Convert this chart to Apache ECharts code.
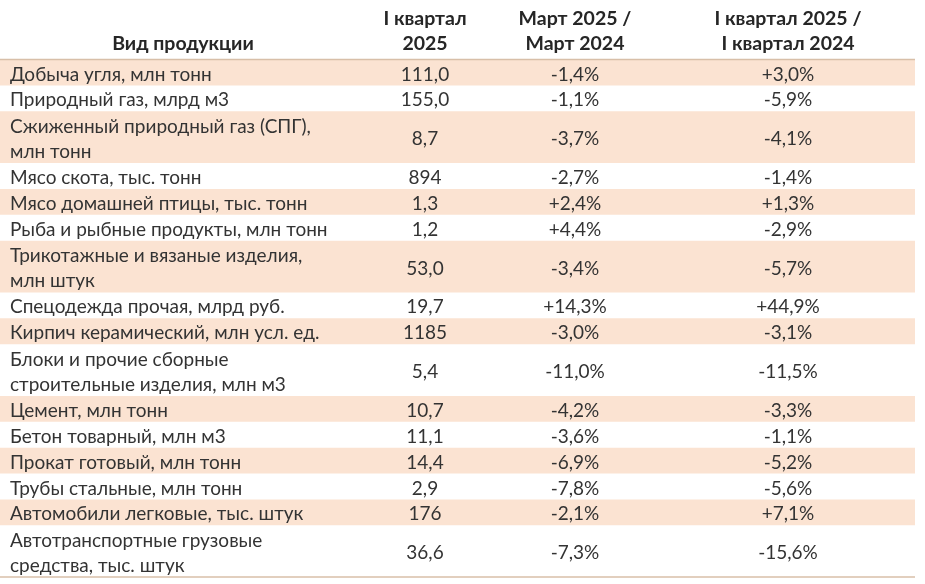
<!DOCTYPE html>
<html lang="ru">
<head>
    <meta charset="UTF-8">
    <title>Производство</title>
    <script src="https://cdn.jsdelivr.net/npm/echarts@6/dist/echarts.min.js"></script>
    <style>
        html, body { margin: 0; padding: 0; background: #fff; }
        #main { width: 925px; height: 584px; }
    </style>
</head>
<body>
<div id="main"></div>
<script type="text/javascript">
    // таблица: строки и значения
    const headers = ['Вид продукции', 'I квартал\n2025', 'Март 2025 /\nМарт 2024', 'I квартал 2025 /\nI квартал 2024']
    const products = [
        'Добыча угля, млн тонн',
        'Природный газ, млрд м3',
        'Сжиженный природный газ (СПГ),\nмлн тонн',
        'Мясо скота, тыс. тонн',
        'Мясо домашней птицы, тыс. тонн',
        'Рыба и рыбные продукты, млн тонн',
        'Трикотажные и вязаные изделия,\nмлн штук',
        'Спецодежда прочая, млрд руб.',
        'Кирпич керамический, млн усл. ед.',
        'Блоки и прочие сборные\nстроительные изделия, млн м3',
        'Цемент, млн тонн',
        'Бетон товарный, млн м3',
        'Прокат готовый, млн тонн',
        'Трубы стальные, млн тонн',
        'Автомобили легковые, тыс. штук',
        'Автотранспортные грузовые\nсредства, тыс. штук'
    ]
    const quarter2025 = ['111,0', '155,0', '8,7', '894', '1,3', '1,2', '53,0', '19,7', '1185', '5,4', '10,7', '11,1', '14,4', '2,9', '176', '36,6']
    const marchChange = ['-1,4%', '-1,1%', '-3,7%', '-2,7%', '+2,4%', '+4,4%', '-3,4%', '+14,3%', '-3,0%', '-11,0%', '-4,2%', '-3,6%', '-6,9%', '-7,8%', '-2,1%', '-7,3%']
    const quarterChange = ['+3,0%', '-5,9%', '-4,1%', '-1,4%', '+1,3%', '-2,9%', '-5,7%', '+44,9%', '-3,1%', '-11,5%', '-3,3%', '-1,1%', '-5,2%', '-5,6%', '+7,1%', '-15,6%']

    const colX = [10, 425, 575, 788]
    const FONT = '19px Lato, "Noto Sans", sans-serif'
    const FONT_B = 'bold 19.5px Lato, "Noto Sans", sans-serif'
    const TEXT = '#333333'
    const SHADE = '#fbe3d2'
    const LINE = '#d8bfa8'
    const HEAD = 2.3

    // начало и конец каждой строки в "строчных" единицах
    let acc = 0
    const rows = products.map(function (p, i) {
        const n = p.split('\n').length
        const r = [acc, acc + n, i]
        acc += n
        return r
    })
    const total = acc

    function renderRow(params, api) {
        const i = api.value(2)
        const a = api.coord([0, api.value(0)])
        const b = api.coord([915, api.value(1)])
        const mid = (a[1] + b[1]) / 2 + 2
        const children = []
        if (i % 2 === 0) {
            children.push({
                type: 'rect',
                shape: {x: a[0], y: a[1], width: b[0] - a[0], height: b[1] - a[1]},
                style: {fill: SHADE}
            })
        }
        const cells = [products[i], quarter2025[i], marchChange[i], quarterChange[i]]
        cells.forEach(function (t, c) {
            children.push({
                type: 'text',
                style: {
                    text: t,
                    x: api.coord([colX[c], 0])[0],
                    y: mid,
                    align: c === 0 ? 'left' : 'center',
                    verticalAlign: 'middle',
                    font: FONT,
                    lineHeight: 25,
                    fill: TEXT
                }
            })
        })
        return {type: 'group', children: children}
    }

    function renderHeader(params, api) {
        const a = api.coord([0, -HEAD])
        const b = api.coord([915, 0])
        const e = api.coord([915, total])
        const children = [
            {type: 'line', shape: {x1: a[0], y1: b[1], x2: b[0], y2: b[1]}, style: {stroke: LINE, lineWidth: 1.5}},
            {type: 'line', shape: {x1: a[0], y1: e[1], x2: b[0], y2: e[1]}, style: {stroke: LINE, lineWidth: 1.5}}
        ]
        headers.forEach(function (t, c) {
            const x = c === 0 ? 183 : colX[c]
            children.push({
                type: 'text',
                style: {
                    text: t,
                    x: api.coord([x, 0])[0],
                    y: b[1] - 3,
                    align: 'center',
                    verticalAlign: 'bottom',
                    font: FONT_B,
                    lineHeight: 25,
                    fill: '#262626'
                }
            })
        })
        return {type: 'group', children: children}
    }

    const chart = echarts.init(document.getElementById('main'))
    chart.setOption({
        animation: false,
        backgroundColor: '#fff',
        grid: {left: 0, right: 10, top: 0, bottom: 7},
        xAxis: {type: 'value', min: 0, max: 915, show: false},
        yAxis: {type: 'value', min: -HEAD, max: total, inverse: true, show: false},
        series: [
            {type: 'custom', renderItem: renderRow, data: rows, clip: false, silent: true},
            {type: 'custom', renderItem: renderHeader, data: [[0, 0, 0]], clip: false, silent: true}
        ]
    })
</script>
</body>
</html>
